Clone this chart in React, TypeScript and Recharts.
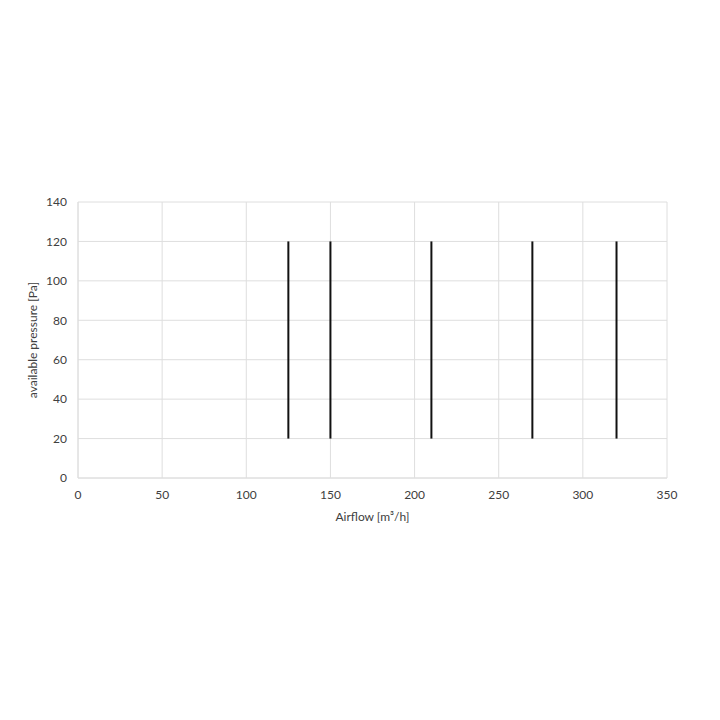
import React from 'react';
import { LineChart, Line, XAxis, YAxis, CartesianGrid } from 'recharts';

// airflow positions of the vertical pressure lines
const airflowValues = [125, 150, 210, 270, 320];
const pressureMin = 20;
const pressureMax = 120;

const xTicks = [0, 50, 100, 150, 200, 250, 300, 350];
const yTicks = [0, 20, 40, 60, 80, 100, 120, 140];

const FONT = 'Lato, "Open Sans", sans-serif';

const App: React.FC = () => {
  const series = airflowValues.map(x => [
    { x, y: pressureMin },
    { x, y: pressureMax },
  ]);

  return (
    <div style={{ width: 704, height: 704, fontFamily: FONT }}>
      <LineChart width={704} height={704} margin={{ top: 194, right: 45, bottom: 191, left: 30 }}>
        <CartesianGrid stroke="#dedede" />
        <XAxis
          type="number"
          dataKey="x"
          domain={[0, 350]}
          ticks={xTicks}
          interval={0}
          allowDuplicatedCategory={false}
          axisLine={{ stroke: '#dedede' }}
          tickLine={false}
          tickMargin={6}
          tick={{ fill: '#404040', fontSize: 12, fontFamily: FONT }}
          height={43}
          label={{ value: 'Airflow [m³/h]', position: 'insideBottom', offset: 0, fill: '#404040', fontSize: 12, fontFamily: FONT }}
        />
        <YAxis
          type="number"
          dataKey="y"
          domain={[0, 140]}
          ticks={yTicks}
          interval={0}
          axisLine={{ stroke: '#dedede' }}
          tickLine={false}
          tickMargin={5}
          tick={{ fill: '#404040', fontSize: 12, fontFamily: FONT }}
          width={40}
          label={{ value: 'available pressure [Pa]', angle: -90, position: 'insideLeft', offset: -5, style: { textAnchor: 'middle' }, fill: '#404040', fontSize: 12, fontFamily: FONT }}
        />
        {series.map((d, i) => (
          <Line
            key={`line-${i}`}
            data={d}
            dataKey="y"
            stroke="#111"
            strokeWidth={2}
            dot={false}
            isAnimationActive={false}
          />
        ))}
      </LineChart>
    </div>
  );
};

export default App;
